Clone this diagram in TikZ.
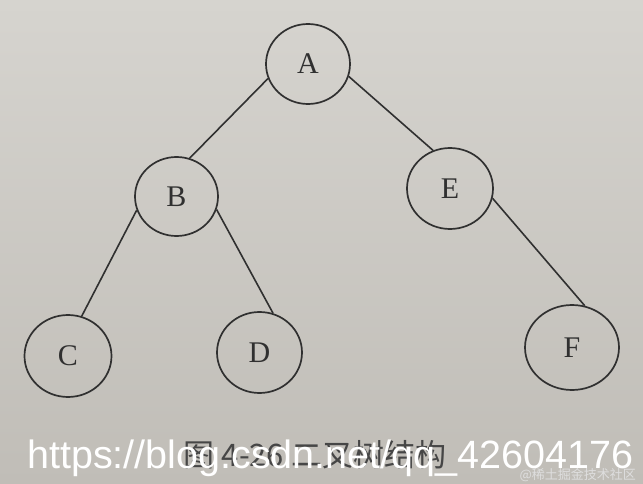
\documentclass[tikz,border=0pt]{standalone}
\usepackage{fontspec}
\setmainfont{Liberation Serif}
\newfontfamily\urlfont{Liberation Sans}
\newfontfamily\cjk{Noto Sans CJK SC}
\usetikzlibrary{shapes.geometric}
\definecolor{bgtop}{RGB}{214,212,207}
\definecolor{bgbot}{RGB}{192,189,183}
\definecolor{ink}{RGB}{48,48,48}
\definecolor{capink}{RGB}{70,70,70}
\definecolor{wmgrey}{RGB}{222,222,222}
\tikzset{
  treenode/.style={ellipse, draw=ink, line width=1.7pt, inner sep=0pt,
    text=ink, font=\fontsize{30}{30}\selectfont},
  edge/.style={draw=ink, line width=1.6pt}
}
\begin{document}
\begin{tikzpicture}[x=1pt,y=-1pt]
\useasboundingbox (0,0) rectangle (643,484);
\shade[top color=bgtop, bottom color=bgbot] (0,0) rectangle (643,484);
\node[treenode, minimum width=84pt, minimum height=80pt] (A) at (308,64) {A};
\node[treenode, minimum width=83pt, minimum height=79pt] (B) at (176.5,196.5) {B};
\node[treenode, minimum width=86pt, minimum height=81pt] (E) at (450,188.5) {E};
\node[treenode, minimum width=87pt, minimum height=82pt] (C) at (68,356) {C};
\node[treenode, minimum width=85pt, minimum height=81pt] (D) at (259.5,352.5) {D};
\node[treenode, minimum width=94pt, minimum height=85pt] (F) at (572,347.5) {F};
\draw[edge] (A.200) -- (B.71);
\draw[edge] (A.343) -- (E.114);
\draw[edge] (B.199) -- (C.71);
\draw[edge] (B.342) -- (D.71);
\draw[edge] (E.347) -- (F.73);
\node[text=capink, font=\cjk\fontsize{31}{31}\selectfont, anchor=base] (cap) at (315,466) {图 4-26 二叉树结构};
\node[text=white, font=\urlfont\fontsize{39.5}{40}\selectfont, anchor=base west, inner sep=0pt] (url) at (27,468) {https://blog.csdn.net/qq\_42604176};
\node[text=wmgrey, font=\cjk\fontsize{13}{13}\selectfont, anchor=base east, inner sep=0pt] (wm) at (636,479) {@稀土掘金技术社区};
\end{tikzpicture}
\end{document}
